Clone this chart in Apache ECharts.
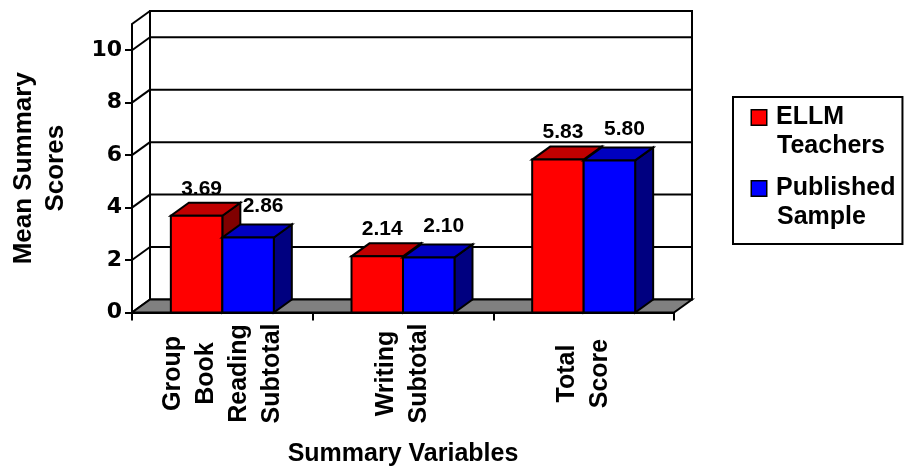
<!DOCTYPE html>
<html>
<head>
<meta charset="utf-8">
<script src="https://cdn.jsdelivr.net/npm/echarts@6/dist/echarts.min.js"></script>
<style>
  html, body { margin: 0; padding: 0; background: #fff; }
  #chart { width: 906px; height: 472px; }
</style>
</head>
<body>
<div id="chart"></div>
<script>
// Summary variables (category axis) and the two group means
const categories = ['Group\nBook\nReading\nSubtotal', 'Writing\nSubtotal', 'Total\nScore'];
const ellmTeachers = [3.69, 2.14, 5.83];
const publishedSample = [2.86, 2.10, 5.80];
const seriesNames = ['ELLM\nTeachers', 'Published\nSample'];
const yTicks = [0, 2, 4, 6, 8, 10];
const yMax = 11;

// pseudo-3D depth of the plot box and bars (pixels)
const DX = 18, DY = -13;
const FONT = '"Liberation Sans", Arial, sans-serif';
const TICK_FONT = '"DejaVu Sans", sans-serif';

const palette = [
  { front: '#ff0000', top: '#c00000', side: '#800000', labelDx: 5, labelGap: 14 },
  { front: '#0000ff', top: '#0000c0', side: '#000080', labelDx: 15, labelGap: 18 }
];

// back wall, left side wall with grid lines, and grey floor
function renderWalls(params, api) {
  const cs = params.coordSys;
  const x0 = cs.x, x1 = cs.x + cs.width;
  const yZero = api.coord([0, 0])[1];
  const yTop = api.coord([0, yMax])[1];
  const line = { stroke: '#000', lineWidth: 2 };
  const children = [];
  children.push({
    type: 'rect',
    shape: { x: x0 + DX, y: yTop + DY, width: x1 - x0, height: yZero - yTop },
    style: { fill: '#fff', stroke: '#000', lineWidth: 2 }
  });
  yTicks.concat([yMax]).forEach(function (v) {
    const y = api.coord([0, v])[1];
    if (v > 0 && v < yMax) {
      children.push({ type: 'line', shape: { x1: x0 + DX, y1: y + DY, x2: x1 + DX, y2: y + DY }, style: line });
    }
    children.push({ type: 'line', shape: { x1: x0, y1: y, x2: x0 + DX, y2: y + DY }, style: line });
  });
  children.push({
    type: 'polygon',
    shape: { points: [[x0, yZero], [x1, yZero], [x1 + DX, yZero + DY], [x0 + DX, yZero + DY]] },
    style: { fill: '#808080', stroke: '#000', lineWidth: 2 }
  });
  return { type: 'group', children: children };
}

// one 3D bar: front face, top face, right side face and value label
function makeBarRenderer(k) {
  const c = palette[k];
  return function (params, api) {
    const cat = api.value(0), val = api.value(1);
    const top = api.coord([cat, val]);
    const base = api.coord([cat, 0]);
    const w = api.size([1, 0])[0] * 0.285;
    const xL = top[0] + (k === 0 ? -w : 0);
    const yT = top[1], yB = base[1];
    const st = { stroke: '#000', lineWidth: 2, lineJoin: 'miter' };
    return {
      type: 'group',
      children: [
        { type: 'polygon', shape: { points: [[xL + w, yT], [xL + w + DX, yT + DY], [xL + w + DX, yB + DY], [xL + w, yB]] },
          style: Object.assign({ fill: c.side }, st) },
        { type: 'polygon', shape: { points: [[xL, yT], [xL + w, yT], [xL + w + DX, yT + DY], [xL + DX, yT + DY]] },
          style: Object.assign({ fill: c.top }, st) },
        { type: 'rect', shape: { x: xL, y: yT, width: w, height: yB - yT },
          style: Object.assign({ fill: c.front }, st) },
        { type: 'text', x: xL + w / 2 + c.labelDx, y: yT + DY - c.labelGap,
          style: { text: val.toFixed(2), fill: '#000', font: 'bold 21px ' + FONT, align: 'center', verticalAlign: 'middle' } }
      ]
    };
  };
}

const chart = echarts.init(document.getElementById('chart'), null, { renderer: 'canvas' });
chart.setOption({
  backgroundColor: '#fff',
  animation: false,
  grid: { left: 129, right: 232, top: 24, bottom: 159, containLabel: false },
  legend: {
    orient: 'vertical',
    left: 733, top: 97,
    data: seriesNames,
    icon: 'none', itemWidth: 0, itemHeight: 0,
    itemGap: 13,
    padding: [6, 7, 12, 14],
    borderColor: '#000', borderWidth: 2,
    selectedMode: false,
    formatter: function (name) {
      const i = seriesNames.indexOf(name);
      const parts = name.split('\n');
      return '{' + (i === 0 ? 'mR' : 'mB') + '|}{g|}{t|' + parts[0] + '}\n{ind|}{t|' + parts[1] + '}';
    },
    textStyle: {
      fontFamily: FONT, fontWeight: 'bold', fontSize: 25, color: '#000', lineHeight: 29,
      rich: {
        t: { fontFamily: FONT, fontWeight: 'bold', fontSize: 25, color: '#000', lineHeight: 29 },
        mR: { width: 14, height: 14, backgroundColor: '#ff0000', borderColor: '#000', borderWidth: 1.5, verticalAlign: 'middle' },
        mB: { width: 14, height: 14, backgroundColor: '#0000ff', borderColor: '#000', borderWidth: 1.5, verticalAlign: 'middle' },
        g: { width: 10 },
        ind: { width: 25 }
      }
    }
  },
  xAxis: {
    type: 'category',
    data: categories,
    boundaryGap: true,
    name: 'Summary Variables',
    nameLocation: 'middle',
    nameGap: 142,
    nameTextStyle: { fontFamily: FONT, fontWeight: 'bold', fontSize: 25, color: '#000', align: 'center', verticalAlign: 'middle' },
    axisLine: { show: true, lineStyle: { color: '#000', width: 2 } },
    axisTick: { show: true, length: 8, lineStyle: { color: '#000', width: 2 } },
    axisLabel: {
      rotate: 90, margin: 61, align: 'center', verticalAlign: 'middle', padding: [0, 0, 7, 0],
      fontFamily: FONT, fontWeight: 'bold', fontSize: 25, color: '#000', lineHeight: 33
    },
    splitLine: { show: false }
  },
  yAxis: {
    type: 'value',
    min: 0, max: yMax, interval: 2,
    name: 'Mean Summary\nScores',
    nameLocation: 'middle',
    nameGap: 92,
    nameTextStyle: { fontFamily: FONT, fontWeight: 'bold', fontSize: 26, color: '#000', lineHeight: 32, align: 'center', verticalAlign: 'middle' },
    axisLine: { show: true, lineStyle: { color: '#000', width: 2 } },
    axisTick: { show: true, length: 7, customValues: yTicks, lineStyle: { color: '#000', width: 2 } },
    axisLabel: { margin: 10, customValues: yTicks, fontFamily: TICK_FONT, fontWeight: 'bold', fontSize: 22, color: '#000' },
    splitLine: { show: false }
  },
  series: [
    { type: 'custom', name: 'walls', silent: true, z: 1, renderItem: renderWalls, data: [[0, 0]] },
    { type: 'custom', name: seriesNames[0], z: 2, renderItem: makeBarRenderer(0),
      data: ellmTeachers.map(function (v, i) { return [i, v]; }) },
    { type: 'custom', name: seriesNames[1], z: 2, renderItem: makeBarRenderer(1),
      data: publishedSample.map(function (v, i) { return [i, v]; }) }
  ]
});
</script>
</body>
</html>
